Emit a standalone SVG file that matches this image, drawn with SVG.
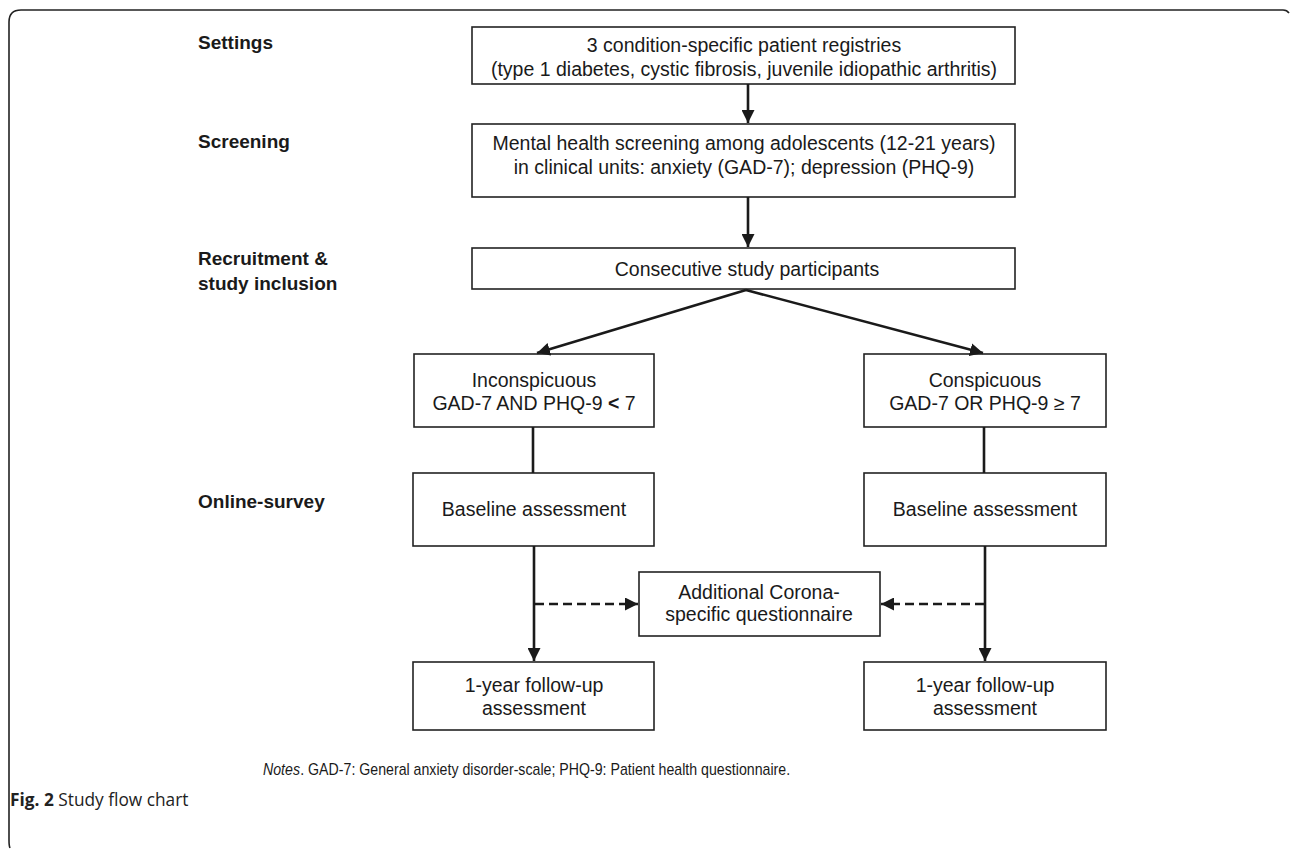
<svg xmlns="http://www.w3.org/2000/svg" width="1290" height="850" viewBox="0 0 1290 850">
<style>
.box{fill:#fff;stroke:#222;stroke-width:1.6}
.t{font-family:"Liberation Sans",Arial,sans-serif;font-size:19.5px;fill:#1a1a1a;text-anchor:middle}
.lab{font-family:"Liberation Sans",Arial,sans-serif;font-size:19px;font-weight:bold;fill:#1a1a1a}
.ln{stroke:#1a1a1a;stroke-width:2.6;fill:none}
.dash{stroke:#1a1a1a;stroke-width:2.6;fill:none;stroke-dasharray:9,5}
.note{font-family:"Liberation Sans",Arial,sans-serif;font-size:16px;fill:#1a1a1a}
</style>
<defs>
<marker id="ah" viewBox="0 0 10 10" refX="10" refY="5" markerWidth="5" markerHeight="5" orient="auto" markerUnits="strokeWidth">
<path d="M0,0 L10,5 L0,10 z" fill="#1a1a1a"/>
</marker>
</defs>
<rect width="1290" height="850" fill="#fff"/>
<path d="M10,848 Q9,846 9,840 L9,22 Q9,10 21,10 L1283,10 Q1287,10 1289,13" fill="none" stroke="#222" stroke-width="1.6"/>
<g id="labels">
<text class="lab" x="198" y="49">Settings</text>
<text class="lab" x="198" y="148">Screening</text>
<text class="lab" x="198" y="265">Recruitment &amp;</text>
<text class="lab" x="198" y="290">study inclusion</text>
<text class="lab" x="198" y="508">Online-survey</text>
</g>
<g id="n1"><rect class="box" x="472" y="27" width="543" height="57"/>
<text class="t" x="744" y="52">3 condition-specific patient registries</text>
<text class="t" x="744" y="76">(type 1 diabetes, cystic fibrosis, juvenile idiopathic arthritis)</text></g>
<g id="n2"><rect class="box" x="472" y="124" width="543" height="73"/>
<text class="t" x="744" y="150">Mental health screening among adolescents (12-21 years)</text>
<text class="t" x="744" y="174">in clinical units: anxiety (GAD-7); depression (PHQ-9)</text></g>
<g id="n3"><rect class="box" x="472" y="248" width="543" height="41"/>
<text class="t" x="747" y="276">Consecutive study participants</text></g>
<g id="n4"><rect class="box" x="414" y="354" width="240" height="73"/>
<text class="t" x="534" y="387">Inconspicuous</text>
<text class="t" x="534" y="410">GAD-7 AND PHQ-9 <tspan font-weight="bold">&lt;</tspan> 7</text></g>
<g id="n5"><rect class="box" x="864" y="354" width="242" height="73"/>
<text class="t" x="985" y="387">Conspicuous</text>
<text class="t" x="985" y="410">GAD-7 OR PHQ-9 ≥ 7</text></g>
<g id="n6"><rect class="box" x="413" y="473" width="241" height="73"/>
<text class="t" x="534" y="516">Baseline assessment</text></g>
<g id="n7"><rect class="box" x="864" y="473" width="242" height="73"/>
<text class="t" x="985" y="516">Baseline assessment</text></g>
<g id="n8"><rect class="box" x="639" y="572" width="241" height="64"/>
<text class="t" x="759" y="599">Additional Corona-</text>
<text class="t" x="759" y="621">specific questionnaire</text></g>
<g id="n9"><rect class="box" x="413" y="662" width="241" height="68"/>
<text class="t" x="534" y="692">1-year follow-up</text>
<text class="t" x="534" y="715">assessment</text></g>
<g id="n10"><rect class="box" x="864" y="662" width="242" height="68"/>
<text class="t" x="985" y="692">1-year follow-up</text>
<text class="t" x="985" y="715">assessment</text></g>
<g id="connectors">
<line class="ln" x1="748" y1="84" x2="748" y2="123" marker-end="url(#ah)"/>
<line class="ln" x1="748" y1="197" x2="748" y2="247" marker-end="url(#ah)"/>
<line class="ln" x1="746" y1="290" x2="537" y2="353" marker-end="url(#ah)"/>
<line class="ln" x1="746" y1="290" x2="983" y2="353" marker-end="url(#ah)"/>
<line class="ln" x1="533" y1="427" x2="533" y2="473"/>
<line class="ln" x1="984" y1="427" x2="984" y2="473"/>
<line class="ln" x1="534" y1="546" x2="534" y2="661" marker-end="url(#ah)"/>
<line class="ln" x1="985" y1="546" x2="985" y2="661" marker-end="url(#ah)"/>
<line class="dash" x1="535" y1="604" x2="638" y2="604" marker-end="url(#ah)"/>
<line class="dash" x1="984" y1="604" x2="881" y2="604" marker-end="url(#ah)"/>
</g>
<g id="notes" transform="translate(263,775) scale(0.886,1)">
<text class="note" x="0" y="0" font-style="italic">Notes</text>
<text class="note" x="42" y="0">. GAD-7: General anxiety disorder-scale; PHQ-9: Patient health questionnaire.</text>
</g>
<text x="10" y="806" font-family="'Open Sans','Noto Sans',sans-serif" font-size="17.3" fill="#222"><tspan font-weight="bold">Fig. 2</tspan> Study flow chart</text>
</svg>
